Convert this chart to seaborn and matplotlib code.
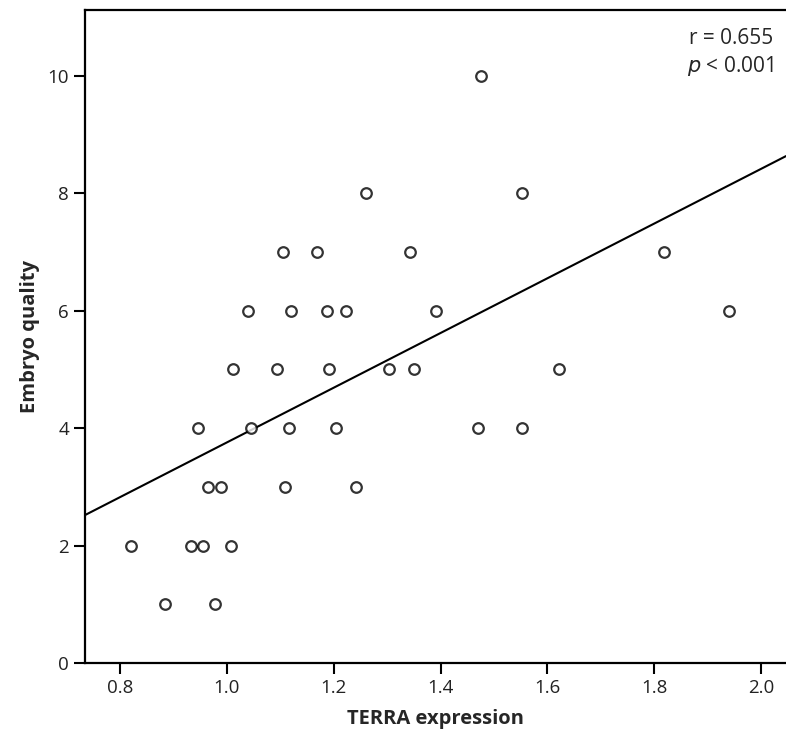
import matplotlib
matplotlib.use("Agg")
import matplotlib.pyplot as plt
import seaborn as sns
import pandas as pd

# values
terra = [0.820, 0.884, 0.933, 0.945, 0.956, 0.964, 0.977, 0.988, 1.007, 1.011,
         1.039, 1.045, 1.094, 1.105, 1.109, 1.116, 1.120, 1.168, 1.187, 1.191,
         1.204, 1.223, 1.241, 1.260, 1.304, 1.343, 1.351, 1.392, 1.471, 1.476,
         1.553, 1.553, 1.621, 1.818, 1.940]
quality = [2, 1, 2, 4, 2, 3, 1, 3, 2, 5,
           6, 4, 5, 7, 3, 4, 6, 7, 6, 5,
           4, 6, 3, 8, 5, 7, 5, 6, 4, 10,
           8, 4, 5, 7, 6]
x_ticks = [0.8, 1.0, 1.2, 1.4, 1.6, 1.8, 2.0]
y_ticks = [0, 2, 4, 6, 8, 10]

df = pd.DataFrame({"TERRA expression": terra, "Embryo quality": quality})

sns.set_theme(style="ticks")
plt.rcParams["font.family"] = ["Open Sans", "DejaVu Sans"]

fig = plt.figure(figsize=(7.86, 7.38), dpi=100)
ax = fig.add_axes([0.108, 0.1016, 0.892, 0.8848])
# limits first so the fitted line spans the whole axis
ax.set_xlim(0.734, 2.047)
ax.set_ylim(0, 11.12)

sns.regplot(data=df, x="TERRA expression", y="Embryo quality", ax=ax, ci=None,
            truncate=False,
            scatter_kws={"s": 58, "facecolors": "white", "edgecolors": "black",
                         "linewidths": 1.6, "zorder": 3},
            line_kws={"color": "black", "linewidth": 1.5})

ax.set_xlim(0.734, 2.047)
ax.set_ylim(0, 11.12)
ax.set_xticks(x_ticks)
ax.set_yticks(y_ticks)
ax.set_xticklabels([f"{t:.1f}" for t in x_ticks], fontsize=13.5)
ax.set_yticklabels([str(t) for t in y_ticks], fontsize=13.5)
ax.tick_params(direction="out", length=8, width=1.5, color="black", labelcolor="#222222")

for s in ["left", "bottom", "top"]:
    ax.spines[s].set_linewidth(1.6)
    ax.spines[s].set_color("black")
ax.spines["right"].set_visible(False)

ax.set_xlabel("TERRA expression", fontsize=14.5, fontweight="bold", labelpad=9)
ax.set_ylabel("Embryo quality", fontsize=14.5, fontweight="bold", labelpad=5)

ax.text(0.982, 0.973, "r = 0.655", transform=ax.transAxes, ha="right", va="top", fontsize=15)
ax.text(0.982, 0.932, "$\\it{p}$ < 0.001", transform=ax.transAxes, ha="right", va="top", fontsize=15)

fig.savefig("out.png", dpi=100)
